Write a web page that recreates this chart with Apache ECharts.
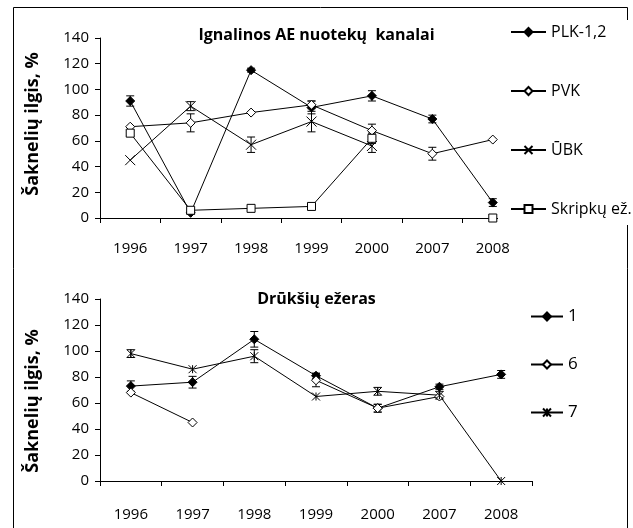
<!DOCTYPE html>
<html>
<head>
<meta charset="utf-8">
<script src="https://cdn.jsdelivr.net/npm/echarts@6/dist/echarts.min.js"></script>
<style>
  html, body { margin: 0; padding: 0; background: #fff; }
  #chart { width: 633px; height: 528px; }
</style>
</head>
<body>
<div id="chart"></div>
<script>
// metai (x ašis)
var years = ['1996', '1997', '1998', '1999', '2000', '2007', '2008'];

// viršutinis grafikas - Ignalinos AE nuotekų kanalai
var plk = [91, 4, 115, 86, 95, 77, 12];
var plkErr = [4, 1, 1.5, 5, 4, 3, 3];
var pvk = [71, 74, 82, 88, 68, 50, 61];
var pvkErr = [0, 7, 0, 3, 5, 5, 0];
var ubk = [45, 87, 57, 75, 56, null, null];
var ubkErr = [0, 3.5, 6, 8, 5, 0, 0];
var skr = [66, 6, 7.5, 9, 62, null, 0];
var skrErr = [2, 1, 0, 0, 4, 0, 0];

// apatinis grafikas - Drūkšių ežeras
var s1 = [73, 76, 109, 81, 56, 72.5, 82];
var s1Err = [4, 4.5, 6, 2, 3, 2, 3];
var s6 = [68, 45, null, 77.5, 56, 65, null];
var s6Err = [0, 0, 0, 5, 3, 0, 0];
var s7 = [98, 86, 96, 65, 69, 66, 0];
var s7Err = [3, 0, 5, 0, 3, 3, 0];

var yTicks = [0, 20, 40, 60, 80, 100, 120, 140];

var FONT = '"Open Sans", "Liberation Sans", sans-serif';
var X_SYMBOL = 'path://M0,0L10,10M10,0L0,10';
var STAR_SYMBOL = 'path://M0,0L10,10M10,0L0,10M5,0L5,10';

var myChart = echarts.init(document.getElementById('chart'));

function lineSeries(name, data, symbol, filled, idx, size) {
  return {
    name: name,
    type: 'line',
    xAxisIndex: idx,
    yAxisIndex: idx,
    data: data,
    symbol: symbol,
    symbolSize: size || 9,
    showAllSymbol: true,
    connectNulls: false,
    lineStyle: { color: '#000', width: 1 },
    itemStyle: { color: filled ? '#000' : '#fff', borderColor: '#000', borderWidth: 1 },
    emphasis: { disabled: true },
    z: 3
  };
}

// klaidų stulpeliai
function errSeries(values, errs, idx) {
  var data = [];
  for (var i = 0; i < values.length; i++) {
    if (values[i] != null && errs[i] > 0) data.push([i, values[i], errs[i]]);
  }
  return {
    type: 'custom',
    xAxisIndex: idx,
    yAxisIndex: idx,
    data: data,
    silent: true,
    z: 2,
    renderItem: function (params, api) {
      var x = api.value(0), v = api.value(1), e = api.value(2);
      var hi = api.coord([x, v + e]);
      var lo = api.coord([x, v - e]);
      var w = 4;
      var st = { stroke: '#000', lineWidth: 1 };
      return {
        type: 'group',
        children: [
          { type: 'line', shape: { x1: hi[0], y1: hi[1], x2: lo[0], y2: lo[1] }, style: st },
          { type: 'line', shape: { x1: hi[0] - w, y1: hi[1], x2: hi[0] + w, y2: hi[1] }, style: st },
          { type: 'line', shape: { x1: lo[0] - w, y1: lo[1], x2: lo[0] + w, y2: lo[1] }, style: st }
        ]
      };
    }
  };
}

function xAxis(idx, margin) {
  return {
    type: 'category',
    gridIndex: idx,
    data: years,
    boundaryGap: true,
    axisLine: { lineStyle: { color: '#000', width: 1 } },
    axisTick: { show: true, length: 5, lineStyle: { color: '#000' } },
    axisLabel: { color: '#000', fontSize: 15, fontFamily: FONT, margin: margin },
    splitLine: { show: false }
  };
}

function yAxis(idx) {
  return {
    type: 'value',
    gridIndex: idx,
    min: yTicks[0],
    max: yTicks[yTicks.length - 1],
    interval: 20,
    axisLine: { show: true, lineStyle: { color: '#000', width: 1 } },
    axisTick: { show: true, length: 5, lineStyle: { color: '#000' } },
    axisLabel: { color: '#000', fontSize: 15, fontFamily: FONT, margin: 11 },
    splitLine: { show: false }
  };
}

var option = {
  backgroundColor: '#fff',
  animation: false,
  title: [
    {
      text: 'Ignalinos AE nuotekų  kanalai',
      left: 'center',
      top: 27,
      padding: 0,
      textStyle: { color: '#000', fontSize: 16, fontWeight: 'bold', fontFamily: FONT }
    },
    {
      text: 'Drūkšių ežeras',
      left: 'center',
      top: 291,
      padding: 0,
      textStyle: { color: '#000', fontSize: 16, fontWeight: 'bold', fontFamily: FONT }
    }
  ],
  legend: [
    {
      data: ['PLK-1,2', 'PVK', 'ŪBK', 'Skripkų ež.'],
      orient: 'vertical',
      left: 498,
      top: 20,
      padding: [4, 0, 8, 12],
      backgroundColor: '#fff',
      itemWidth: 35,
      itemHeight: 10,
      itemGap: 43,
      textStyle: { color: '#000', fontSize: 16, fontFamily: FONT }
    },
    {
      data: ['1', '6', '7'],
      orient: 'vertical',
      left: 530,
      top: 308,
      padding: 0,
      itemWidth: 32,
      itemHeight: 10,
      itemGap: 31,
      textStyle: { color: '#000', fontSize: 17, fontFamily: FONT }
    }
  ],
  grid: [
    { left: 100, top: 38, width: 423, height: 180 },
    { left: 100, top: 299, width: 432, height: 182 }
  ],
  xAxis: [xAxis(0, 23), xAxis(1, 26)],
  yAxis: [yAxis(0), yAxis(1)],
  graphic: [
    {
      type: 'rect',
      shape: { x: 13.5, y: 7.5, width: 614, height: 540 },
      style: { fill: 'none', stroke: '#000', lineWidth: 1 },
      silent: true
    },
    {
      type: 'text',
      x: 33, y: 124,
      rotation: Math.PI / 2,
      style: { text: 'Šaknelių ilgis, %', align: 'center', verticalAlign: 'middle',
               font: 'bold 18px ' + FONT, fill: '#000' }
    },
    {
      type: 'text',
      x: 33, y: 401,
      rotation: Math.PI / 2,
      style: { text: 'Šaknelių ilgis, %', align: 'center', verticalAlign: 'middle',
               font: 'bold 18px ' + FONT, fill: '#000' }
    }
  ],
  series: [
    errSeries(plk, plkErr, 0),
    errSeries(pvk, pvkErr, 0),
    errSeries(ubk, ubkErr, 0),
    errSeries(skr, skrErr, 0),
    lineSeries('PLK-1,2', plk, 'diamond', true, 0),
    lineSeries('PVK', pvk, 'diamond', false, 0),
    lineSeries('ŪBK', ubk, X_SYMBOL, false, 0, 10),
    lineSeries('Skripkų ež.', skr, 'rect', false, 0, 8),

    errSeries(s1, s1Err, 1),
    errSeries(s6, s6Err, 1),
    errSeries(s7, s7Err, 1),
    lineSeries('1', s1, 'diamond', true, 1),
    lineSeries('6', s6, 'diamond', false, 1),
    lineSeries('7', s7, STAR_SYMBOL, false, 1, 8)
  ]
};

myChart.setOption(option);
</script>
</body>
</html>
